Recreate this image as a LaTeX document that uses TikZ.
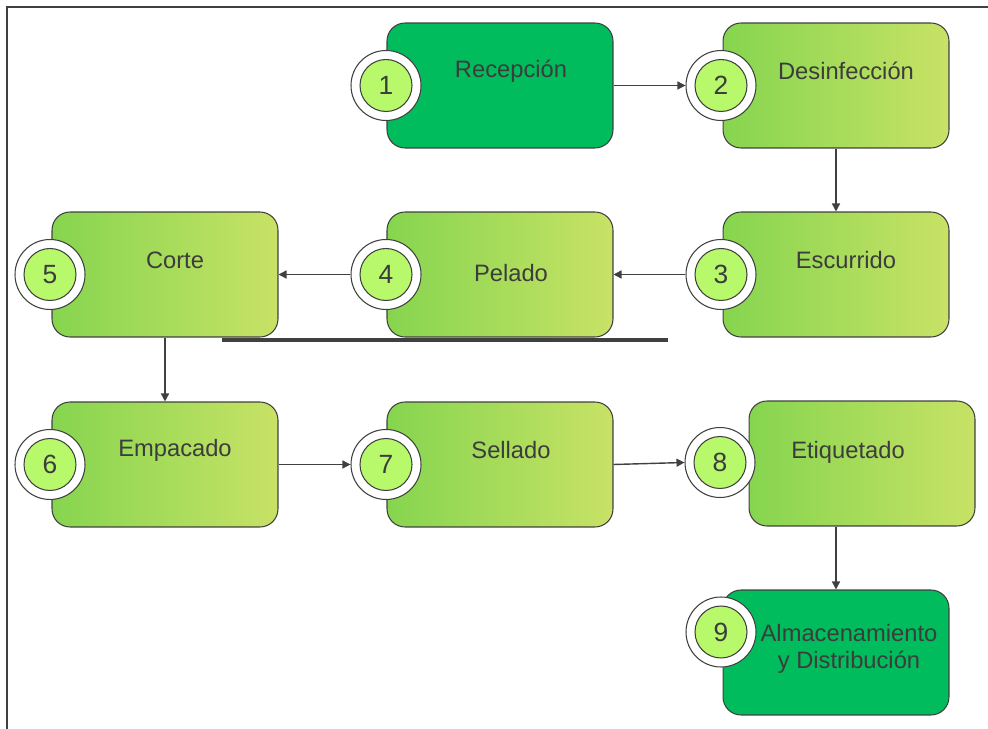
\documentclass[tikz,border=0pt]{standalone}
\usepackage{fontspec}
\setmainfont{Liberation Sans}
\usetikzlibrary{arrows.meta,calc,positioning}
\definecolor{darkgreen}{HTML}{00BC5C}
\definecolor{leftgreen}{HTML}{86D54F}
\definecolor{rightgreen}{HTML}{C8E266}
\definecolor{numgreen}{HTML}{B8F86B}
\definecolor{textgray}{HTML}{3C3C3C}
\definecolor{linegray}{HTML}{404040}
\tikzset{
  stepbox/.style={draw=linegray, line width=0.6pt, rounded corners=0.36cm, minimum width=4.52cm, minimum height=2.5cm, inner sep=0pt},
  fadebox/.style={stepbox, left color=leftgreen, right color=rightgreen},
  solidbox/.style={stepbox, fill=darkgreen},
  ringout/.style={circle, draw=linegray, fill=white, line width=0.6pt, minimum size=1.4cm, inner sep=0pt},
  ringin/.style={circle, draw=linegray, fill=numgreen, line width=0.6pt, minimum size=1.04cm, inner sep=0pt, font=\fontsize{15}{18}\selectfont, text=textgray},
  steptext/.style={font=\fontsize{13.5}{15}\selectfont, text=textgray, align=center},
  flow/.style={-{Triangle[length=1.6mm,width=1.6mm]}, linegray, line width=0.8pt},
}
\begin{document}
\begin{tikzpicture}[x=0.02cm,y=-0.02cm]
        \useasboundingbox (0,0) rectangle (988,729);
        % Frame
        \coordinate (FA) at (7,729);
        \coordinate (FB) at (7,7);
        \coordinate (FC) at (988,7);
        \draw[linegray, line width=0.7pt] (FA) -- (FB) -- (FC);
        % Boxes
        \node[solidbox] (recep) at (500,85.5) {};
        \node[fadebox] (desinf) at (836,85.5) {};
        \node[fadebox] (escur) at (836,274.5) {};
        \node[fadebox] (pelado) at (500,274.5) {};
        \node[fadebox] (corte) at (165,274.5) {};
        \node[fadebox] (empac) at (165,464.5) {};
        \node[fadebox] (sell) at (500,464.5) {};
        \node[fadebox] (etiq) at (862,463.5) {};
        \node[solidbox] (almac) at (836,652.5) {};
        % Box texts
        \node[steptext] (recepT) at (511,71) {Recepción};
        \node[steptext] (desinfT) at (846,71) {Desinfección};
        \node[steptext] (escurT) at (846,260) {Escurrido};
        \node[steptext] (peladoT) at (511,273) {Pelado};
        \node[steptext] (corteT) at (175,260) {Corte};
        \node[steptext] (empacT) at (175,450) {Empacado};
        \node[steptext] (sellT) at (511,450) {Sellado};
        \node[steptext] (etiqT) at (848,452) {Etiquetado};
        \node[steptext] (almacT) at (849,649) {Almacenamiento\\y Distribución};
        % Thick base line
        \coordinate (LA) at (222,340);
        \coordinate (LB) at (668,340);
        \draw[linegray, line width=2.3pt] (LA) -- (LB);
        % Number rings
        \node[ringout] (c1o) at (386,85.5) {};
        \node[ringin] (c1) at (c1o) {1};
        \node[ringout] (c2o) at (721,85.5) {};
        \node[ringin] (c2) at (c2o) {2};
        \node[ringout] (c3o) at (721,274.5) {};
        \node[ringin] (c3) at (c3o) {3};
        \node[ringout] (c4o) at (386,274.5) {};
        \node[ringin] (c4) at (c4o) {4};
        \node[ringout] (c5o) at (50,274.5) {};
        \node[ringin] (c5) at (c5o) {5};
        \node[ringout] (c6o) at (50,464.5) {};
        \node[ringin] (c6) at (c6o) {6};
        \node[ringout] (c7o) at (386,464.5) {};
        \node[ringin] (c7) at (c7o) {7};
        \node[ringout] (c8o) at (720,462.5) {};
        \node[ringin] (c8) at (c8o) {8};
        \node[ringout] (c9o) at (721,632) {};
        \node[ringin] (c9) at (c9o) {9};
        % Flow arrows
        \draw[flow] (recep.east) -- (c2o.west);
        \draw[flow] (desinf.south) -- (escur.north);
        \draw[flow] (c3o.west) -- (pelado.east);
        \draw[flow] (c4o.west) -- (corte.east);
        \draw[flow] (corte.south) -- (empac.north);
        \draw[flow] (empac.east) -- (c7o.west);
        \draw[flow] (sell.east) -- (c8o.west);
        \draw[flow] (etiq.south -| almac.north) -- (almac.north);
\end{tikzpicture}
\end{document}
